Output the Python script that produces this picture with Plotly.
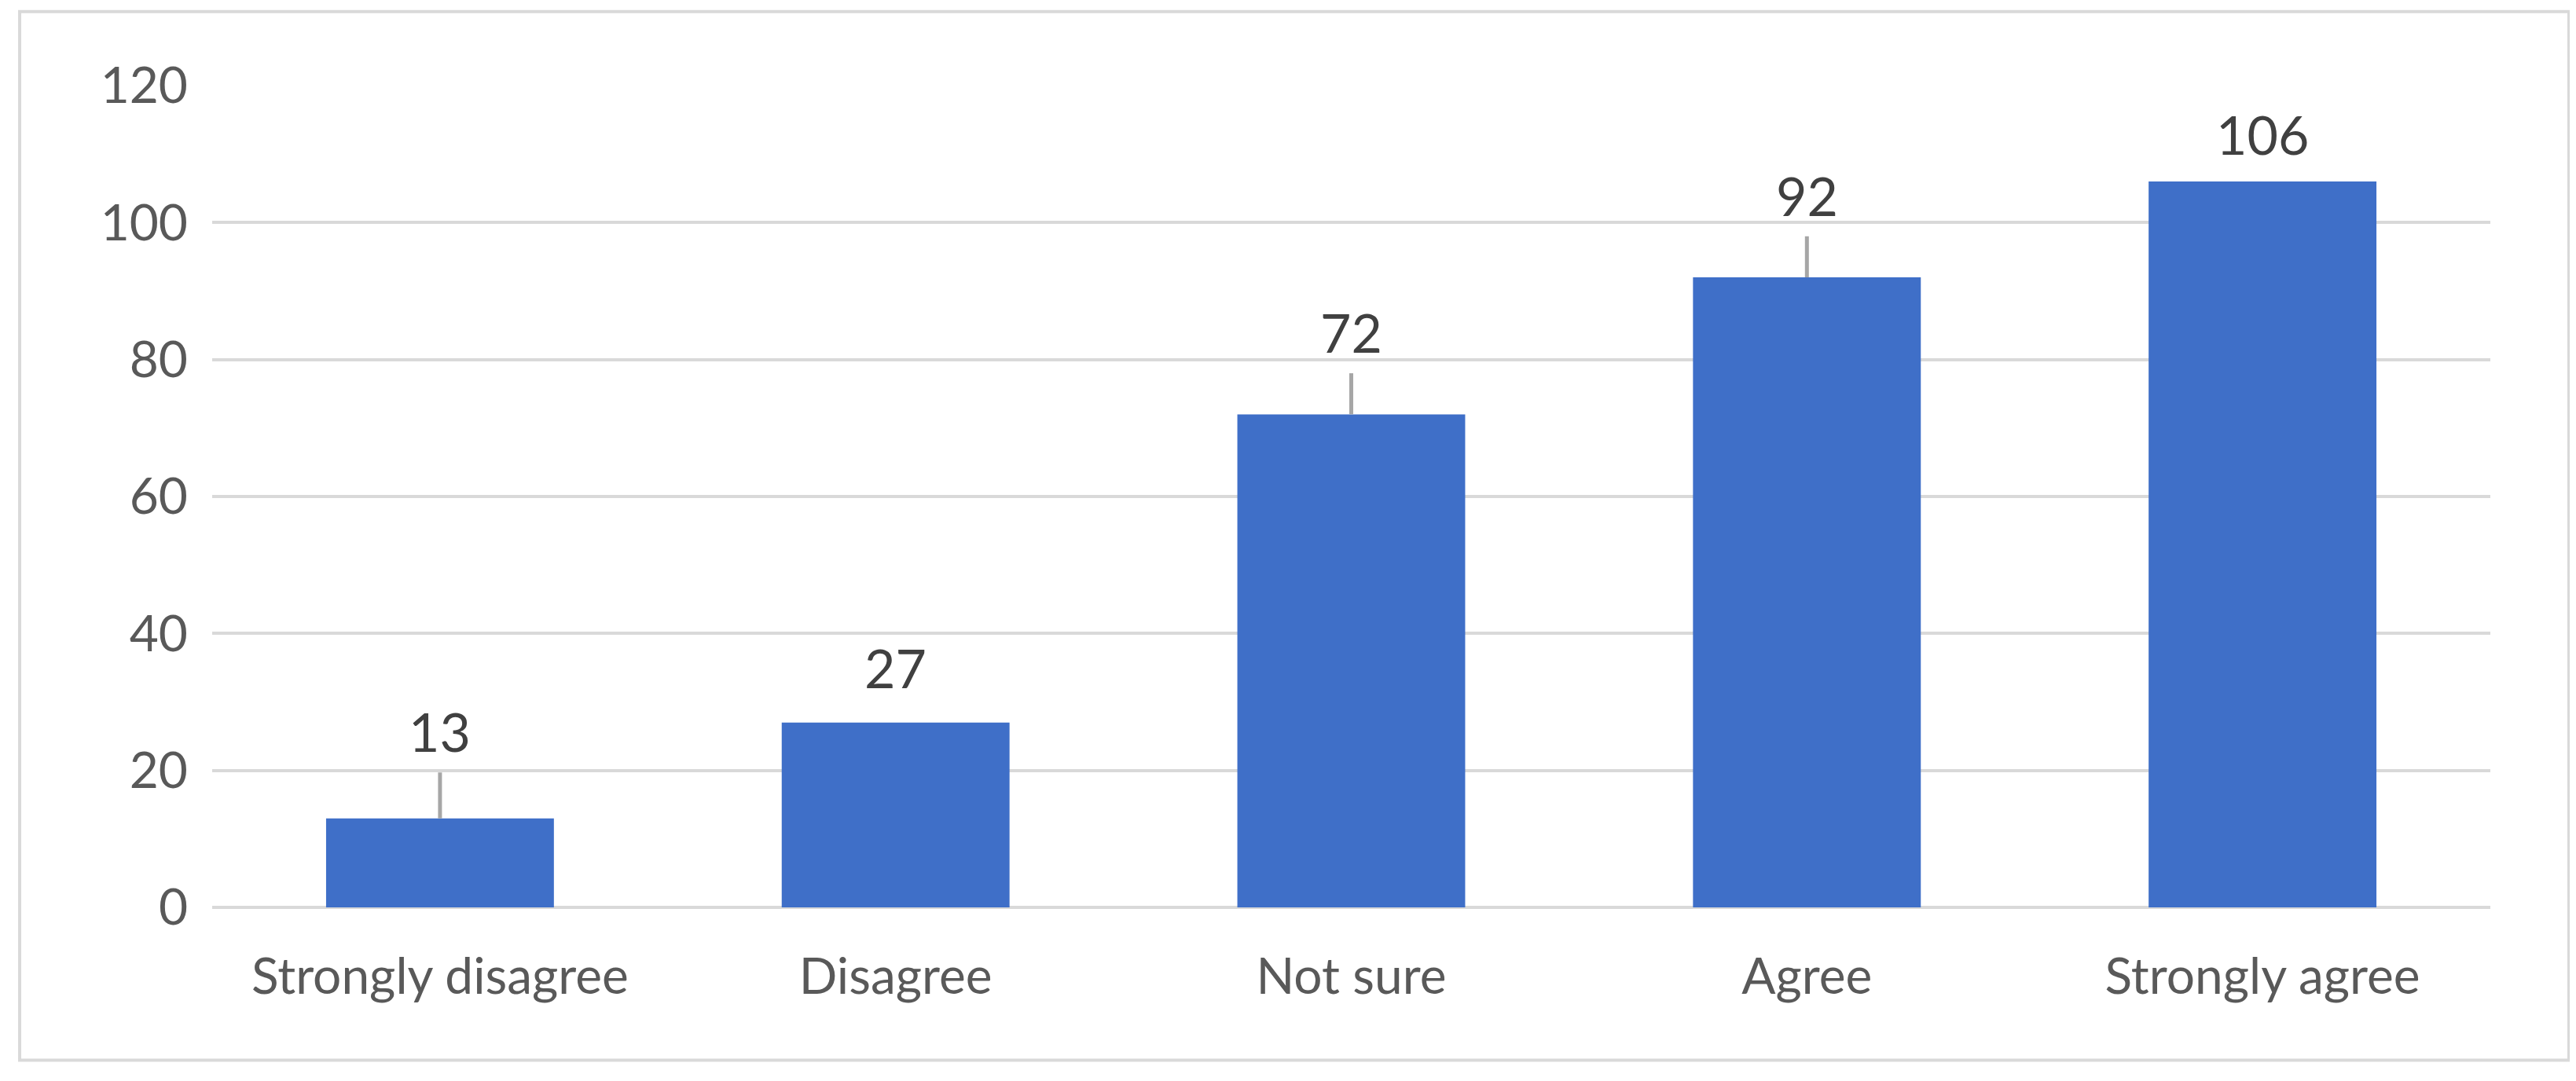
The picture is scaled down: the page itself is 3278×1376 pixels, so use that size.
import plotly.graph_objects as go

categories = ["Strongly disagree", "Disagree", "Not sure", "Agree", "Strongly agree"]
values = [13, 27, 72, 92, 106]
label_y = [25.7, 35, 84, 104, 113]
leader_top = [19.7, None, 78, 98, None]
y_ticks = [0, 20, 40, 60, 80, 100, 120]

FONT = "Lato"
fig = go.Figure(go.Bar(x=categories, y=values, marker=dict(color="#3F6FC8", line=dict(width=0)),
                       hoverinfo="skip"))

for c, v, ly, lt in zip(categories, values, label_y, leader_top):
    fig.add_annotation(x=c, y=ly, text=str(v), showarrow=False, xref="x", yref="y",
                       font=dict(family=FONT, size=68, color="#404040"))
    if lt is not None:
        fig.add_shape(type="line", xref="x", yref="y", x0=c, x1=c, y0=v, y1=lt,
                      line=dict(color="#A6A6A6", width=5))

fig.add_shape(type="rect", xref="paper", yref="paper", x0=-0.0845, x1=1.0345, y0=-0.186, y1=1.09,
              line=dict(color="#D9D9D9", width=4), layer="below")

fig.update_layout(
    width=3278, height=1376, paper_bgcolor="white", plot_bgcolor="white",
    margin=dict(l=262, r=117, t=101, b=229), bargap=0.5, showlegend=False,
    font=dict(family=FONT, color="#595959", size=64),
    xaxis=dict(showgrid=False, showline=False, ticks="", ticklabelstandoff=45,
               tickfont=dict(size=64, color="#595959")),
    yaxis=dict(range=[0, 120], tickvals=y_ticks, showgrid=True, gridcolor="#D9D9D9", gridwidth=4,
               zeroline=True, zerolinecolor="#D9D9D9", zerolinewidth=4, ticks="",
               ticklabelstandoff=30, tickfont=dict(size=64, color="#595959")),
)
fig.write_html("out.html")
